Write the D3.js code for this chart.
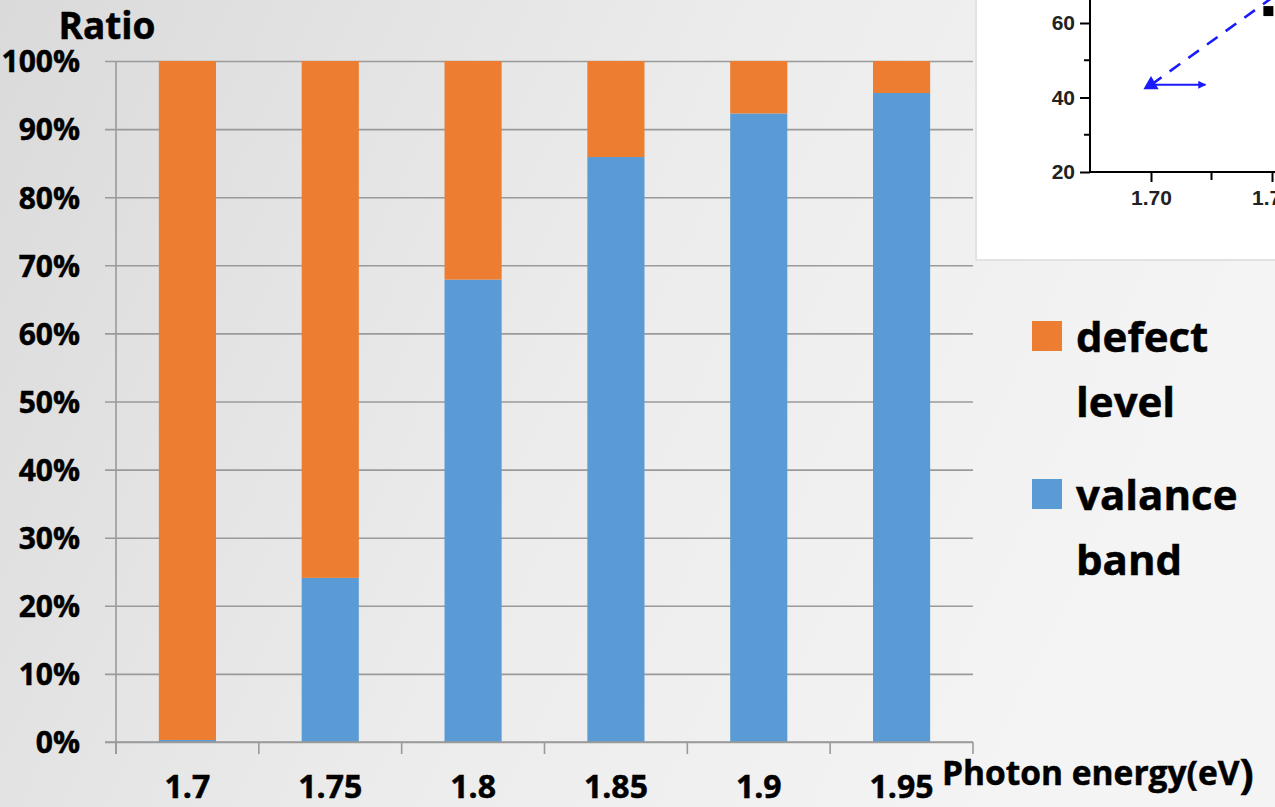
<!DOCTYPE html>
<html>
<head>
<meta charset="utf-8">
<script src="https://cdn.jsdelivr.net/npm/d3@7"></script>
<style>
  html, body { margin: 0; padding: 0; }
  body { width: 1275px; height: 807px; overflow: hidden; }
  svg { display: block; }
  text.lbl { font-family: "Open Sans", "DejaVu Sans", sans-serif; font-weight: 700; fill: #000; stroke: #000; stroke-width: 0.5px; }
</style>
</head>
<body>
<svg id="chart" width="1275" height="807"></svg>
<script>
// Photon energy categories (eV)
const categories = ["1.7", "1.75", "1.8", "1.85", "1.9", "1.95"];
// Share of each transition path, in percent
const valenceBand = [0.3, 24.1, 67.9, 85.9, 92.3, 95.3];
const defectLevel = [99.7, 75.9, 32.1, 14.1, 7.7, 4.7];
const yTicks = [0, 10, 20, 30, 40, 50, 60, 70, 80, 90, 100];
const seriesColors = ["#5B9BD5", "#ED7D31"];

// Small inset plot (partial view)
const insetYTicks = [20, 40, 60];
const insetYMinor = [30, 50];
const insetXTicks = [1.70, 1.75];
const insetXMinor = [1.725];
const insetTriangle = [1.70, 43.4];
const insetSquare = [1.7485, 63.2];
const insetDashX = [1.70, 1.7505];
const insetDashY = [43.4, 67.0];
const insetArrowX = [1.70, 1.7225];

const svg = d3.select("#chart");
const defs = svg.append("defs");

// slide background gradient
const bg = defs.append("linearGradient").attr("id", "bg")
  .attr("x1", "0").attr("y1", "0").attr("x2", "1").attr("y2", "0.3");
bg.append("stop").attr("offset", "0").attr("stop-color", "#dadada");
bg.append("stop").attr("offset", "0.55").attr("stop-color", "#ececec");
bg.append("stop").attr("offset", "1").attr("stop-color", "#f4f4f4");
svg.append("rect").attr("width", 1275).attr("height", 807).attr("fill", "url(#bg)");

// ---------- main stacked chart ----------
const plot = { left: 116, right: 973, top: 61, bottom: 742 };

const x = d3.scaleBand().domain(categories)
  .range([plot.left, plot.right]).paddingInner(0.6).paddingOuter(0.3);
const y = d3.scaleLinear().domain([0, 100]).range([plot.bottom, plot.top]);

const rows = categories.map((c, i) => ({ cat: c, valence: valenceBand[i], defect: defectLevel[i] }));
const stack = d3.stack().keys(["valence", "defect"]).offset(d3.stackOffsetExpand);
const layers = stack(rows);

// horizontal gridlines with left ticks
const yAxis = d3.axisLeft(y).tickValues(yTicks).tickSize(11).tickFormat(d => d + "%");
const yg = svg.append("g").attr("transform", `translate(${plot.left},0)`).call(yAxis);
yg.select(".domain").remove();
yg.selectAll(".tick line").attr("x1", -11).attr("x2", plot.right - plot.left)
  .attr("stroke", "#9a9a9a").attr("stroke-width", 1.6);
yg.selectAll(".tick text").attr("class", "lbl").attr("x", -36).attr("dy", "0.36em")
  .style("font-size", "30px");

// left axis line
svg.append("line").attr("x1", plot.left).attr("x2", plot.left)
  .attr("y1", plot.top).attr("y2", plot.bottom + 12)
  .attr("stroke", "#9a9a9a").attr("stroke-width", 1.6);

// bars
const barG = svg.append("g");
layers.forEach((layer, k) => {
  barG.selectAll(null).data(layer).join("rect")
    .attr("x", d => x(d.data.cat))
    .attr("width", x.bandwidth())
    .attr("y", d => y(d[1] * 100))
    .attr("height", d => y(d[0] * 100) - y(d[1] * 100))
    .attr("fill", seriesColors[k]);
});

// bottom category axis with boundary ticks
const bounds = d3.range(categories.length + 1).map(i => plot.left + i * (plot.right - plot.left) / categories.length);
svg.append("g").selectAll("line").data(bounds).join("line")
  .attr("x1", d => d).attr("x2", d => d)
  .attr("y1", plot.bottom).attr("y2", plot.bottom + 12)
  .attr("stroke", "#9a9a9a").attr("stroke-width", 1.6);
svg.append("line").attr("x1", plot.left - 11).attr("x2", plot.right)
  .attr("y1", plot.bottom).attr("y2", plot.bottom)
  .attr("stroke", "#9a9a9a").attr("stroke-width", 1.6);

svg.append("g").selectAll("text").data(categories).join("text")
  .attr("class", "lbl")
  .attr("x", d => x(d) + x.bandwidth() / 2)
  .attr("y", 798)
  .attr("text-anchor", "middle")
  .style("font-size", "32px")
  .text(d => d);

// axis titles
svg.append("text").attr("class", "lbl").attr("x", 107).attr("y", 39).attr("text-anchor", "middle")
  .style("font-size", "37px").text("Ratio");
const xt = svg.append("text").attr("class", "lbl").attr("x", 942).attr("y", 785)
  .style("font-size", "33.5px");
xt.append("tspan").text("Photon energy(eV");
xt.append("tspan").style("font-size", "42px").attr("dy", 4).text(")");

// legend
const legend = [
  { lines: ["defect", "level"], color: seriesColors[1], top: 321 },
  { lines: ["valance", "band"], color: seriesColors[0], top: 479 }
];
const lg = svg.append("g");
legend.forEach(item => {
  lg.append("rect").attr("x", 1032).attr("y", item.top).attr("width", 30).attr("height", 30)
    .attr("fill", item.color);
  item.lines.forEach((t, j) => {
    lg.append("text").attr("class", "lbl").attr("x", 1076).attr("y", item.top + 31 + j * 65)
      .style("font-size", "42px").text(t);
  });
});

// ---------- inset plot ----------
const inset = svg.append("g");
inset.append("rect").attr("x", 976).attr("y", -2).attr("width", 302).attr("height", 262)
  .attr("fill", "#ffffff").attr("stroke", "#e2e2e2").attr("stroke-width", 2);
defs.append("clipPath").attr("id", "insetClip").append("rect")
  .attr("x", 977).attr("y", 0).attr("width", 298).attr("height", 259);

const ix = d3.scaleLinear().domain([1.70, 1.75]).range([1151, 1272]);
const iy = d3.scaleLinear().domain([20, 60]).range([172, 23]);
const ig = inset.append("g").attr("clip-path", "url(#insetClip)");

const insetFont = g => g.selectAll(".tick text")
  .style("font-size", "21px")
  .style("font-family", "'Liberation Sans', Arial, sans-serif")
  .style("font-weight", 700).attr("fill", "#222");

ig.append("g").attr("transform", "translate(1090,0)")
  .call(d3.axisLeft(iy).tickValues(insetYTicks).tickSize(10).tickFormat(d3.format("d")))
  .call(g => {
    g.select(".domain").attr("d", "M0,172V-10").attr("stroke", "#000").attr("stroke-width", 2);
    g.selectAll(".tick line").attr("stroke", "#000").attr("stroke-width", 2);
    g.selectAll(".tick text").attr("x", -15);
    insetFont(g);
  });
ig.append("g").selectAll("line").data(insetYMinor).join("line")
  .attr("x1", 1084).attr("x2", 1090).attr("y1", d => iy(d)).attr("y2", d => iy(d))
  .attr("stroke", "#000").attr("stroke-width", 2);

ig.append("g").attr("transform", "translate(0,172)")
  .call(d3.axisBottom(ix).tickValues(insetXTicks).tickSize(10).tickFormat(d3.format(".2f")))
  .call(g => {
    g.select(".domain").attr("d", "M1090,0H1290").attr("stroke", "#000").attr("stroke-width", 2);
    g.selectAll(".tick line").attr("stroke", "#000").attr("stroke-width", 2);
    g.selectAll(".tick text").attr("y", 18);
    insetFont(g);
  });
ig.append("g").selectAll("line").data(insetXMinor).join("line")
  .attr("x1", d => ix(d)).attr("x2", d => ix(d)).attr("y1", 172).attr("y2", 180)
  .attr("stroke", "#000").attr("stroke-width", 2);

// dashed trend line
const dashPts = insetDashX.map((v, i) => [ix(v), iy(insetDashY[i])]);
ig.append("path").attr("d", d3.line()(dashPts))
  .attr("fill", "none").attr("stroke", "#1a1aff").attr("stroke-width", 2.6)
  .attr("stroke-dasharray", "13,10");

// arrow
defs.append("marker").attr("id", "arrowHead").attr("viewBox", "0 0 10 10")
  .attr("refX", 9).attr("refY", 5).attr("markerWidth", 7).attr("markerHeight", 4)
  .attr("orient", "auto").attr("markerUnits", "strokeWidth")
  .append("path").attr("d", "M0,0L10,5L0,10Z").attr("fill", "#1a1aff");
ig.append("line")
  .attr("x1", ix(insetArrowX[0])).attr("x2", ix(insetArrowX[1]))
  .attr("y1", iy(insetTriangle[1])).attr("y2", iy(insetTriangle[1]))
  .attr("stroke", "#1a1aff").attr("stroke-width", 2).attr("marker-end", "url(#arrowHead)");

// markers
ig.append("path")
  .attr("transform", `translate(${ix(insetTriangle[0])},${iy(insetTriangle[1])})`)
  .attr("d", d3.symbol().type(d3.symbolTriangle).size(100)())
  .attr("fill", "#1a1aff");
ig.append("rect")
  .attr("x", ix(insetSquare[0]) - 5).attr("y", iy(insetSquare[1]) - 5)
  .attr("width", 10).attr("height", 10).attr("fill", "#000");
</script>
</body>
</html>
